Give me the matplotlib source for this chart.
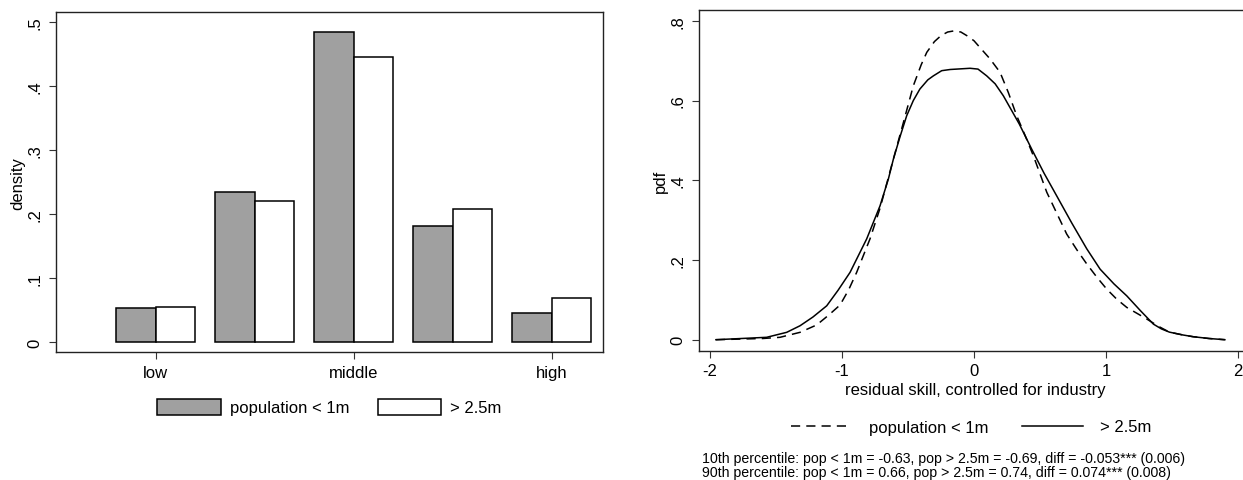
import numpy as np
import matplotlib.pyplot as plt
from matplotlib.patches import Patch
from matplotlib.lines import Line2D

plt.rcParams['font.family'] = ['Liberation Sans', 'DejaVu Sans']
plt.rcParams['font.size'] = 12

# left panel: skill bins
bins = ['low', '', 'middle', '', 'high']
small_pop = [0.0533, 0.2348, 0.4854, 0.1810, 0.0455]
large_pop = [0.0554, 0.2212, 0.4461, 0.2082, 0.0685]

# right panel: density curves
x_small = [-1.955, -1.60, -1.47, -1.318, -1.192, -1.10, -1.015, -0.95, -0.889, -0.788,
           -0.712, -0.611, -0.535, -0.46, -0.40, -0.358, -0.30, -0.25, -0.20, -0.149,
           -0.10, -0.05, 0.0, 0.045, 0.12, 0.197, 0.26, 0.323, 0.39, 0.449,
           0.551, 0.63, 0.702, 0.78, 0.854, 0.93, 1.005, 1.08, 1.157, 1.308,
           1.40, 1.48, 1.58, 1.66, 1.78, 1.90]
y_small = [0.0, 0.003, 0.006, 0.0185, 0.037, 0.062, 0.087, 0.125, 0.169, 0.253,
           0.330, 0.453, 0.545, 0.637, 0.690, 0.721, 0.748, 0.763, 0.772, 0.775,
           0.772, 0.762, 0.750, 0.733, 0.705, 0.671, 0.620, 0.562, 0.510, 0.462,
           0.370, 0.315, 0.265, 0.225, 0.190, 0.157, 0.127, 0.102, 0.081, 0.052,
           0.033, 0.019, 0.012, 0.0075, 0.003, 0.0]

x_large = [-1.955, -1.571, -1.419, -1.318, -1.22, -1.116, -1.03, -0.939, -0.813, -0.712,
           -0.649, -0.611, -0.56, -0.51, -0.46, -0.41, -0.35, -0.308, -0.245, -0.18,
           -0.13, -0.03, 0.03, 0.096, 0.16, 0.222, 0.28, 0.343, 0.437, 0.53,
           0.626, 0.74, 0.854, 0.955, 1.06, 1.157, 1.26, 1.359, 1.42, 1.48,
           1.58, 1.66, 1.78, 1.90]
y_large = [0.0, 0.006, 0.0185, 0.035, 0.057, 0.085, 0.124, 0.169, 0.253, 0.336,
           0.403, 0.453, 0.510, 0.562, 0.600, 0.629, 0.652, 0.662, 0.675, 0.678,
           0.679, 0.681, 0.679, 0.662, 0.642, 0.612, 0.578, 0.541, 0.478, 0.418,
           0.361, 0.293, 0.228, 0.177, 0.140, 0.110, 0.073, 0.039, 0.027, 0.019,
           0.012, 0.0075, 0.003, 0.0]

notes = ['10th percentile: pop < 1m = -0.63, pop > 2.5m = -0.69, diff = -0.053*** (0.006)',
         '90th percentile: pop < 1m = 0.66, pop > 2.5m = 0.74, diff = 0.074*** (0.008)']

W, H = 1243, 481
fig = plt.figure(figsize=(W / 100, H / 100), dpi=100)

def fmt(v):
    s = ('%g' % v)
    return s[1:] if s.startswith('0.') else s

def style(ax):
    for sp in ax.spines.values():
        sp.set_linewidth(1.0)
        sp.set_color('#222222')
    ax.tick_params(axis='both', length=5, width=0.8, color='#333333', pad=4)
    ax.tick_params(axis='y', pad=4.5)

# ---- left: bar chart
ax1 = fig.add_axes([56 / W, 1 - 353.3 / H, 547 / W, 340 / H])
pos = np.arange(len(bins))
w = 0.4
ax1.bar(pos - w / 2, small_pop, w, color='#a0a0a0', edgecolor='black', linewidth=1.1)
ax1.bar(pos + w / 2, large_pop, w, color='white', edgecolor='black', linewidth=1.1)
ax1.set_xlim(-1.01, 4.52)
ax1.set_ylim(-0.0162, 0.5157)
yt = [0, 0.1, 0.2, 0.3, 0.4, 0.5]
ax1.set_yticks(yt)
ax1.set_yticklabels([fmt(v) for v in yt], rotation=90, va='center')
lab = [i for i, b in enumerate(bins) if b]
ax1.set_xticks(lab)
ax1.set_xticklabels([bins[i] for i in lab])
ax1.set_ylabel('density', labelpad=2)
style(ax1)

h1 = [Patch(facecolor='#a0a0a0', edgecolor='black', linewidth=1.1),
      Patch(facecolor='white', edgecolor='black', linewidth=1.1)]
fig.legend(h1, ['population < 1m', '> 2.5m'], loc='center',
           bbox_to_anchor=(329.5 / W, 1 - 408 / H), ncol=2, frameon=False,
           handlelength=3.8, handleheight=1.1, handletextpad=0.55,
           columnspacing=1.7, borderpad=0, fontsize=12)

# ---- right: density curves
ax2 = fig.add_axes([698.7 / W, 1 - 351.7 / H, (1251 - 698.7) / W, 341 / H])
ax2.plot(x_small, y_small, color='black', lw=1.1, linestyle=(0, (6, 4)))
ax2.plot(x_large, y_large, color='black', lw=1.1, solid_joinstyle='round')
ax2.set_xlim(-2.0856, 2.098)
ax2.set_ylim(-0.0276, 0.828)
ax2.set_xticks([-2, -1, 0, 1, 2])
ax2.set_xticklabels(['-2', '-1', '0', '1', '2'])
yt2 = [0, 0.2, 0.4, 0.6, 0.8]
ax2.set_yticks(yt2)
ax2.set_yticklabels([fmt(v) for v in yt2], rotation=90, va='center')
ax2.set_ylabel('pdf', labelpad=2)
ax2.set_xlabel('residual skill, controlled for industry', labelpad=3)
style(ax2)

h2 = [Line2D([], [], color='black', lw=1.1, linestyle=(0, (6, 4))),
      Line2D([], [], color='black', lw=1.1)]
fig.legend(h2, ['population < 1m', '> 2.5m'], loc='center',
           bbox_to_anchor=(971 / W, 1 - 428 / H), ncol=2, frameon=False,
           handlelength=3.7, handletextpad=1.0, columnspacing=2.0,
           borderpad=0, fontsize=12)

for i, t in enumerate(notes):
    fig.text(702 / W, 1 - (459 + 14 * i) / H, t, fontsize=10.2, ha='left', va='center')

fig.savefig('out.png', dpi=100)
